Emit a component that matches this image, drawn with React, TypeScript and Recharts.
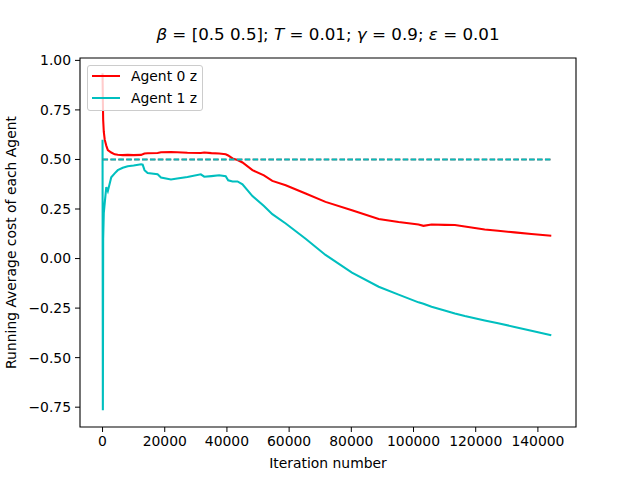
import React from "react"
import {
  LineChart,
  Line,
  XAxis,
  YAxis,
  Legend,
  ReferenceLine,
  ReferenceArea,
} from "recharts"

// iterations sampled along the run
const iterations = [
  0, 100, 200, 400, 700, 1200, 1700, 2800, 3900, 4900, 6500, 8100, 10000, 12400,
  12900, 13500, 14500, 17700, 18800, 22000, 24000, 27300, 31600, 32700, 35000,
  37500, 39600, 40400, 41800, 43400, 45000, 48200, 51900, 54600, 58900, 65300,
  71700, 80200, 88800, 95200, 101600, 103200, 105800, 110000, 113300, 116500,
  122900, 127200, 132500, 137900, 144300,
]

const agent0 = [
  0.935, 0.8, 0.7, 0.64, 0.6, 0.57, 0.547, 0.535, 0.526, 0.524, 0.522, 0.523,
  0.522, 0.523, 0.526, 0.53, 0.531, 0.533, 0.536, 0.537, 0.536, 0.534, 0.533,
  0.535, 0.532, 0.53, 0.526, 0.52, 0.505, 0.497, 0.485, 0.446, 0.42, 0.392,
  0.37, 0.328, 0.286, 0.244, 0.2, 0.184, 0.172, 0.165, 0.172, 0.17, 0.169,
  0.162, 0.147, 0.14, 0.132, 0.124, 0.115,
]

const agent1 = [
  0.6, -0.765, 0.1, 0.23, 0.28, 0.36, 0.34, 0.41, 0.43, 0.446, 0.458, 0.466,
  0.47, 0.476, 0.474, 0.446, 0.432, 0.425, 0.409, 0.399, 0.404, 0.412, 0.425,
  0.413, 0.416, 0.42, 0.415, 0.395, 0.389, 0.389, 0.375, 0.315, 0.265, 0.224,
  0.177, 0.1, 0.018, -0.071, -0.142, -0.182, -0.221, -0.228, -0.243, -0.262,
  -0.277, -0.29, -0.313, -0.327, -0.345, -0.364, -0.387,
]

// beta for each agent, drawn as dashed targets
const beta = [0.5, 0.5]

const xTicks = [0, 20000, 40000, 60000, 80000, 100000, 120000, 140000]
const yTicks = [-0.75, -0.5, -0.25, 0, 0.25, 0.5, 0.75, 1]

const xDomain: [number, number] = [-7250, 152250]
const yDomain: [number, number] = [-0.85, 1.012]

const RED = "#ff0000"
const CYAN = "#00bfbf"
const FONT = "'DejaVu Sans', sans-serif"

const data = iterations.map((iteration, i) => ({
  iteration,
  a0: agent0[i],
  a1: agent1[i],
}))

const lastIter = iterations[iterations.length - 1]

const fmtY = (v: number) => v.toFixed(2).replace("-", "\u2212")

function LegendBox({ payload }: any) {
  return (
    <div
      style={{
        width: 116,
        height: 46,
        boxSizing: "border-box",
        border: "1px solid #cccccc",
        borderRadius: 3,
        background: "rgba(255,255,255,0.8)",
        position: "relative",
        fontFamily: FONT,
        fontSize: 13.9,
        color: "#000",
      }}
    >
      {(payload || []).map((p: any, i: number) => (
        <div
          key={p.value}
          style={{
            position: "absolute",
            left: 4,
            top: 2 + i * 21.7,
            height: 16,
            lineHeight: "16px",
            display: "flex",
            alignItems: "center",
            whiteSpace: "nowrap",
          }}
        >
          <span
            style={{
              display: "inline-block",
              width: 28,
              height: 2,
              background: p.color,
              marginRight: 11,
            }}
          />
          {p.value}
        </div>
      ))}
    </div>
  )
}

export default function App() {
  return (
    <div
      style={{
        position: "absolute",
        left: 0,
        top: 0,
        width: 640,
        height: 480,
        background: "#fff",
        fontFamily: FONT,
      }}
    >
      <LineChart
        width={640}
        height={480}
        data={data}
        margin={{ top: 58, right: 64, bottom: 0, left: 0 }}
        style={{ fontFamily: FONT }}
      >
        <XAxis
          dataKey="iteration"
          type="number"
          domain={xDomain}
          allowDataOverflow
          ticks={xTicks}
          interval={0}
          axisLine={false}
          tickSize={5}
          tickMargin={4}
          height={53}
          stroke="#000"
          tick={{ fontSize: 13.9, fill: "#000" }}
          label={{
            value: "Iteration number",
            position: "insideBottom",
            offset: 12,
            style: { fontSize: 13.9, fill: "#000" },
          }}
        />
        <YAxis
          type="number"
          domain={yDomain}
          allowDataOverflow
          ticks={yTicks}
          interval={0}
          axisLine={false}
          tickSize={5}
          tickMargin={4}
          width={80}
          stroke="#000"
          tickFormatter={fmtY}
          tick={{ fontSize: 13.9, fill: "#000" }}
          label={{
            value: "Running Average cost of each Agent",
            angle: -90,
            position: "insideLeft",
            offset: 11,
            style: { fontSize: 13.9, fill: "#000", textAnchor: "middle" },
          }}
        />
        <Line
          dataKey="a0"
          name="Agent 0 z"
          type="linear"
          stroke={RED}
          strokeWidth={2.08}
          dot={false}
          isAnimationActive={false}
        />
        <Line
          dataKey="a1"
          name="Agent 1 z"
          type="linear"
          stroke={CYAN}
          strokeWidth={2.08}
          dot={false}
          isAnimationActive={false}
        />
        <ReferenceLine
          segment={[
            { x: 0, y: beta[0] },
            { x: lastIter, y: beta[0] },
          ]}
          stroke={RED}
          strokeWidth={1.4}
          strokeDasharray="5.5 2.4"
        />
        <ReferenceLine
          segment={[
            { x: 0, y: beta[1] },
            { x: lastIter, y: beta[1] },
          ]}
          stroke={CYAN}
          strokeWidth={2.08}
          strokeDasharray="5.5 2.4"
        />
        <ReferenceArea
          x1={xDomain[0]}
          x2={xDomain[1]}
          y1={yDomain[0]}
          y2={yDomain[1]}
          fill="none"
          stroke="#000"
          strokeWidth={1.1}
          fillOpacity={0}
        />
        <Legend
          layout="vertical"
          align="center"
          verticalAlign="middle"
          content={<LegendBox />}
          wrapperStyle={{ left: 87, top: 65, width: 116, height: 46 }}
        />
      </LineChart>
      <svg
        width={640}
        height={50}
        style={{ position: "absolute", left: 0, top: 0, pointerEvents: "none" }}
      >
        <text
          x={328}
          y={40}
          textAnchor="middle"
          fontSize={16.7}
          fontFamily={FONT}
          fill="#000"
        >
          <tspan fontStyle="italic">β</tspan> = [0.5 0.5]; <tspan fontStyle="italic">T</tspan> = 0.01;{" "}
          <tspan fontStyle="italic">γ</tspan> = 0.9; <tspan fontStyle="italic">ε</tspan> = 0.01
        </text>
      </svg>
    </div>
  )
}
